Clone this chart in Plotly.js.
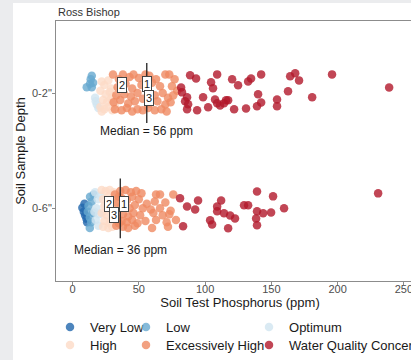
<!DOCTYPE html>
<html><head><meta charset="utf-8">
<script src="https://cdn.plot.ly/plotly-3.0.1.min.js"></script>
<style>
html,body{margin:0;padding:0;background:#ebecee;overflow:hidden;width:411px;height:360px;}
#chart{position:absolute;left:13px;top:3px;width:440px;height:357px;background:#fff;}
</style></head><body><div id="chart"></div>
<script>
const categories = ['Very Low','Low','Optimum','High','Excessively High','Water Quality Concern'];
const colors = ['#2166ac','#67a9cf','#d1e5f0','#fddbc7','#ef8a62','#b2182b'];
const depthLabels = ['0-6"','0-2"'];
const medians = [36, 56];
const labelText = ['2','1','3','2','1','3'];
const labelDepth = [1,1,1,0,0,0];
const labelX = [37.1,56.4,58.0,27.8,39.1,31.5];
const labelJ = [0.067,0.075,-0.04,0.041,0.041,-0.055];

// depth 0-2"
const veryLowX2 = [];
const veryLowJ2 = [];
const lowX2 = [14.5,13.7,13.2,10.7,14.5,15.5];
const lowJ2 = [0.15,0.12,0.08,0.05,0.05,0.09];
const optX2 = [17.0,18.3,17.5,19.5];
const optJ2 = [-0.04,-0.10,-0.07,-0.13];
const highX2 = [22,24,27,29,21,25,28,30,23,26,29,21,24,27,30,32,22];
const highJ2 = [0.10,0.07,0.11,0.04,0.02,-0.01,0.01,-0.03,-0.06,-0.08,-0.05,-0.12,-0.14,-0.12,-0.15,-0.10,-0.16];
const ehX2 = [30.5,35,38,43,46,50,55,58,63,70,73,77,34,40,45,52,60,66,75,79,33,39,44,49,62,68,72,76,31,36,42,47,53,58,64,70,74,32,37,41,45,49,53,57,62,67,71];
const ehJ2 = [0.16,0.12,0.16,0.14,0.16,0.13,0.16,0.15,0.12,0.16,0.16,0.12,0.05,0.08,0.04,0.07,0.09,0.06,0.06,0.02,-0.02,-0.01,-0.03,0.0,-0.02,0.0,-0.04,-0.02,-0.08,-0.06,-0.09,-0.07,-0.05,-0.09,-0.07,-0.10,-0.08,-0.14,-0.15,-0.13,-0.16,-0.14,-0.15,-0.13,-0.15,-0.14,-0.16];
const wqcX2 = [81.9,82.6,86.4,84.9,87.2,86.4,88.7,93.2,94.0,98.5,102.3,104.5,106.0,109.1,107.5,109.1,111.3,114.3,115.8,117.4,120.4,121.9,124.9,130.9,132.5,134.7,139.2,140.0,142.3,142.3,154.3,154.3,162.6,164.2,168.0,170.9,180.8,195.8,238.9];
const wqcJ2 = [0.049,0.006,-0.037,-0.072,-0.098,-0.141,0.154,0.127,-0.150,-0.037,-0.124,0.093,0.041,0.162,-0.055,-0.089,-0.107,-0.089,-0.063,-0.063,0.119,-0.141,0.067,-0.133,0.101,0.127,-0.115,-0.011,-0.081,0.162,-0.055,-0.115,0.015,0.145,0.171,0.110,-0.037,0.162,0.049];

// depth 0-6"
const veryLowX6 = [7.4,8.5,9.5,10.5,9.0,11.0];
const veryLowJ6 = [0.006,-0.03,-0.06,-0.09,0.04,-0.12];
const lowX6 = [13.2,14.5,12.0,15.5,13.0,11.5,14.0,13.0,16.0];
const lowJ6 = [0.10,0.06,0.02,-0.04,-0.08,-0.03,-0.12,-0.17,0.12];
const optX6 = [17,19,18,20,17.5,19.5,21,16.5];
const optJ6 = [0.14,0.08,0.0,-0.05,-0.10,-0.15,0.11,-0.03];
const highX6 = [22,25,28,31,23,27,30,24,29,33,22,26,31,24,28,32,23,27,30,34];
const highJ6 = [0.16,0.15,0.16,0.14,0.08,0.10,0.07,0.02,0.01,0.03,-0.04,-0.06,-0.05,-0.11,-0.13,-0.10,-0.16,-0.17,-0.16,-0.12];
const ehX6 = [32,33,32.5,34,33,35,35,36,40,44,48,52,63,66,76,37,41,45,50,56,62,70,37,43,47,53,59,66,74,38,42,46,51,61,68,73,37,41,45,49,55,63,71,78,38,42,47,60,72];
const ehJ6 = [0.12,0.05,-0.02,-0.09,-0.15,0.10,-0.13,0.15,0.16,0.14,0.15,0.13,0.12,0.12,0.12,0.09,0.07,0.10,0.08,0.04,0.06,0.05,0.02,0.0,0.03,0.0,-0.01,0.0,-0.02,-0.05,-0.07,-0.04,-0.06,-0.04,-0.06,-0.05,-0.11,-0.12,-0.10,-0.13,-0.11,-0.10,-0.12,-0.10,-0.16,-0.17,-0.15,-0.17,-0.16];
const wqcX6 = [81.1,86.4,94.7,92.5,83.4,112.1,109.1,109.1,114.3,118.9,122.6,103.8,105.3,117.4,129.4,132.5,139.2,151.3,139.2,143.8,149.8,159.6,138.5,139.2,230.6];
const wqcJ6 = [0.087,0.017,0.069,-0.009,-0.156,0.069,0.017,-0.026,-0.043,-0.061,-0.087,-0.104,-0.139,-0.173,0.026,0.026,0.147,0.104,-0.026,-0.043,-0.035,0.0,-0.087,-0.147,0.130];

const xs2 = [veryLowX2,lowX2,optX2,highX2,ehX2,wqcX2];
const js2 = [veryLowJ2,lowJ2,optJ2,highJ2,ehJ2,wqcJ2];
const xs6 = [veryLowX6,lowX6,optX6,highX6,ehX6,wqcX6];
const js6 = [veryLowJ6,lowJ6,optJ6,highJ6,ehJ6,wqcJ6];

const FONT = 'Liberation Sans, Arial, sans-serif';
const legendIds = ['legend','legend2','legend3','legend4','legend5','legend6'];
const legX = [-0.0163, 0.1902, 0.5245];
const legY = [-0.1192, -0.1885];
const medianTextDy = [-0.36, -0.325];

const traces = [];
categories.forEach((c,i)=>{
  const x = xs6[i].concat(xs2[i]);
  const y = js6[i].map(j=>0+j).concat(js2[i].map(j=>1+j));
  traces.push({type:'scatter',mode:'markers',name:c,x:x,y:y,legend:legendIds[i],
    marker:{color:colors[i],size:8.5,opacity:0.8,line:{width:0}},hoverinfo:'skip'});
});
medians.forEach((m,d)=>{
  traces.push({type:'scatter',mode:'lines',x:[m,m],y:[d-0.26,d+0.26],showlegend:false,
    line:{color:'#222',width:1.3},hoverinfo:'skip'});
});

const annotations = [];
medians.forEach((m,d)=>{
  annotations.push({x:m,y:d+medianTextDy[d],xref:'x',yref:'y',text:'Median = '+m+' ppm',showarrow:false,
    font:{family:FONT,size:12,color:'#1a1a1a'}});
});
labelText.forEach((t,i)=>{
  annotations.push({x:labelX[i],y:labelDepth[i]+labelJ[i],xref:'x',yref:'y',text:t,showarrow:false,
    bgcolor:'#fff',bordercolor:'#444',borderwidth:1,borderpad:1,
    font:{family:FONT,size:11,color:'#1a1a1a'}});
});
annotations.push({xref:'paper',yref:'paper',x:0,y:1,xanchor:'left',yanchor:'bottom',yshift:1,
  text:'Ross Bishop',showarrow:false,font:{family:FONT,size:11,color:'#333'}});

const layout = {
  width:440,height:357,
  margin:{l:43,r:29,t:18,b:79,autoexpand:false},
  paper_bgcolor:'#fff',plot_bgcolor:'#fff',
  font:{family:FONT,color:'#4d4d4d',size:12},
  showlegend:true,
  xaxis:{range:[-12.5,265.2],tickvals:[0,50,100,150,200,250],showgrid:false,zeroline:false,
    showline:true,mirror:true,linecolor:'#8c8c8c',linewidth:1,ticks:'outside',ticklen:3,tickcolor:'#8c8c8c',
    tickfont:{size:11,color:'#4d4d4d'},automargin:true,ticklabelstandoff:-5,
    title:{text:'Soil Test Phosphorus (ppm)',font:{size:13,color:'#1a1a1a'},standoff:0}},
  yaxis:{range:[-0.63,1.625],tickvals:[0,1],ticktext:depthLabels,showgrid:false,zeroline:false,
    showline:true,mirror:true,linecolor:'#8c8c8c',linewidth:1,ticks:'outside',ticklen:3,tickcolor:'#8c8c8c',
    tickfont:{size:11,color:'#4d4d4d'},automargin:true,ticklabelstandoff:-2,
    title:{text:'Soil Sample Depth',font:{size:13,color:'#1a1a1a'},standoff:4}},
  annotations:annotations
};
legendIds.forEach((id,i)=>{
  layout[id] = {orientation:'v',xanchor:'left',yanchor:'top',x:legX[i%3],y:legY[Math.floor(i/3)],
    font:{family:FONT,size:13,color:'#1a1a1a'},bgcolor:'rgba(0,0,0,0)'};
});
try {
  Plotly.newPlot('chart',traces,layout,{displayModeBar:false}).catch(e=>{console.error(e && e.stack);});
} catch(e) { console.error(e && e.stack); }
</script></body></html>
